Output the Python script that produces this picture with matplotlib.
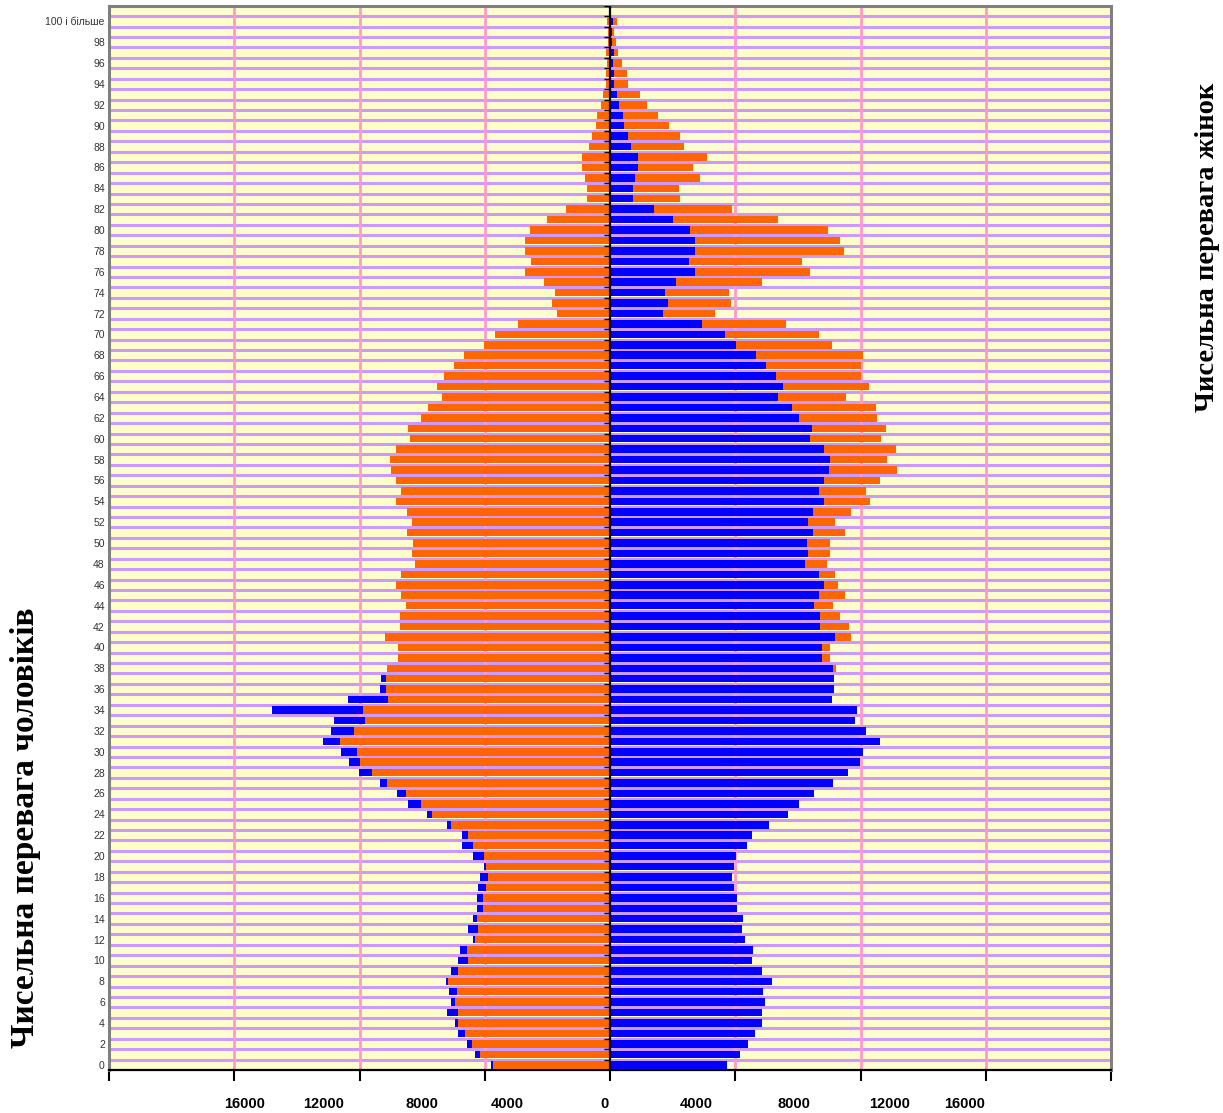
import numpy as np
import matplotlib
matplotlib.use("Agg")
import matplotlib.pyplot as plt
from matplotlib.lines import TICKLEFT

# ---- data: population by single year of age ----
ages = list(range(0, 101))
male = [3790, 4300, 4580, 4840, 4940, 5190, 5090, 5130, 5250, 5090,
        4870, 4780, 4360, 4520, 4390, 4260, 4260, 4230, 4140, 4010,
        4360, 4740, 4740, 5190, 5830, 6440, 6790, 7330, 8030, 8320,
        8580, 9180, 8900, 8830, 10810, 8380, 7330, 7300, 7110, 6760,
        6760, 7170, 6720, 6720, 6500, 6690, 6820, 6660, 6240, 6310,
        6280, 6470, 6310, 6470, 6850, 6660, 6820, 6980, 7010, 6820,
        6400, 6440, 6020, 5800, 5350, 5510, 5290, 4970, 4650, 4010,
        3660, 2950, 1680, 1840, 1770, 2120, 2700, 2510, 2730, 2700,
        2540, 2000, 1390, 750, 750, 810, 880, 880, 660, 590,
        460, 400, 300, 210, 140, 140, 80, 140, 50, 50, 80]
female = [3750, 4140, 4420, 4620, 4870, 4840, 4940, 4900, 5160, 4840,
          4520, 4580, 4300, 4230, 4260, 4070, 4040, 3950, 3910, 3950,
          4010, 4390, 4550, 5090, 5700, 6020, 6500, 7110, 7590, 7970,
          8070, 8610, 8160, 7840, 7900, 7080, 7140, 7140, 7230, 7040,
          7040, 7710, 7620, 7360, 7110, 7490, 7270, 7200, 6920, 7040,
          7040, 7520, 7170, 7710, 8290, 8190, 8610, 9150, 8860, 9120,
          8670, 8830, 8540, 8510, 7550, 8260, 8030, 8030, 8070, 7080,
          6690, 5610, 3340, 3880, 3790, 4870, 6400, 6120, 7460, 7330,
          6950, 5350, 3910, 2250, 2190, 2890, 2640, 3110, 2350, 2250,
          1900, 1520, 1170, 970, 590, 530, 370, 270, 180, 140, 210]
age_labels = [str(a) for a in range(0, 100, 2)] + ["100 і більше"]
x_tick_labels = ["16000", "12000", "8000", "4000", "0", "4000", "8000", "12000", "16000"]
x_label_pos = [-11670, -9150, -6020, -3270, -180, 2760, 5860, 8920, 11320]

ORANGE = "#FF6600"
BLUE = "#0000FF"
BG = "#FFFFCC"
HGRID = "#CC99FF"
VGRID = "#FF99CC"
BORDER = "#808080"

male = np.array(male)
female = np.array(female)
common = np.minimum(male, female)
m_extra = male - common
f_extra = female - common

fig = plt.figure(figsize=(12.23, 11.13), dpi=100)
ax = fig.add_axes([109/1223, 1 - 1070/1113, 1002/1223, 1064.3/1113])
ax.set_facecolor(BG)

h = 0.72
# left side: common part orange, male excess blue
ax.barh(ages, -common, height=h, color=ORANGE, zorder=3)
ax.barh(ages, -m_extra, left=-common, height=h, color=BLUE, zorder=3)
# right side: common part blue, female excess orange
ax.barh(ages, common, height=h, color=BLUE, zorder=3)
ax.barh(ages, f_extra, left=common, height=h, color=ORANGE, zorder=3)

ax.set_xlim(-16000, 16000)
ax.set_ylim(-0.5, 101.5)

# grid
for yb in np.arange(0.5, 101, 1):
    ax.axhline(yb, color=HGRID, lw=2.2, zorder=1)
for xv in [-12000, -8000, -4000, 4000, 8000, 12000]:
    ax.axvline(xv, color=VGRID, lw=2.0, zorder=2)

# centre axis with small ticks
ax.axvline(0, color="black", lw=1.6, zorder=4)
ax.plot(np.zeros(102), np.arange(0.5, 102, 1), linestyle="none",
        marker=TICKLEFT, markersize=4, mew=1.0, color="black", zorder=4)

# spines
for s in ["left", "right", "top"]:
    ax.spines[s].set_color(BORDER)
    ax.spines[s].set_linewidth(2.2)
ax.spines["bottom"].set_color("black")
ax.spines["bottom"].set_linewidth(1.6)

ax.set_yticks(list(range(0, 100, 2)) + [100])
ax.set_yticklabels(age_labels, fontsize=7.5, color="#333333", family="Liberation Sans")
ax.tick_params(axis="y", length=0, pad=3)

ax.set_xticks(np.arange(-16000, 16001, 4000))
ax.set_xticklabels([])
ax.tick_params(axis="x", direction="out", length=8, width=1.5, color="black")

for lab, xp in zip(x_tick_labels, x_label_pos):
    ax.text(xp, -0.032, lab, transform=ax.get_xaxis_transform(),
            ha="center", va="center", fontsize=10.5, fontweight="bold",
            family="Liberation Sans")

fig.text(26/1223, 1 - 828/1113, "Чисельна перевага чоловіків", rotation=90,
         ha="center", va="center", fontsize=24, fontweight="bold", family="Liberation Serif")
fig.text(1207/1223, 1 - 247/1113, "Чисельна перевага жінок", rotation=90,
         ha="center", va="center", fontsize=20.5, fontweight="bold", family="Liberation Serif")

fig.savefig("out.png", dpi=100)
